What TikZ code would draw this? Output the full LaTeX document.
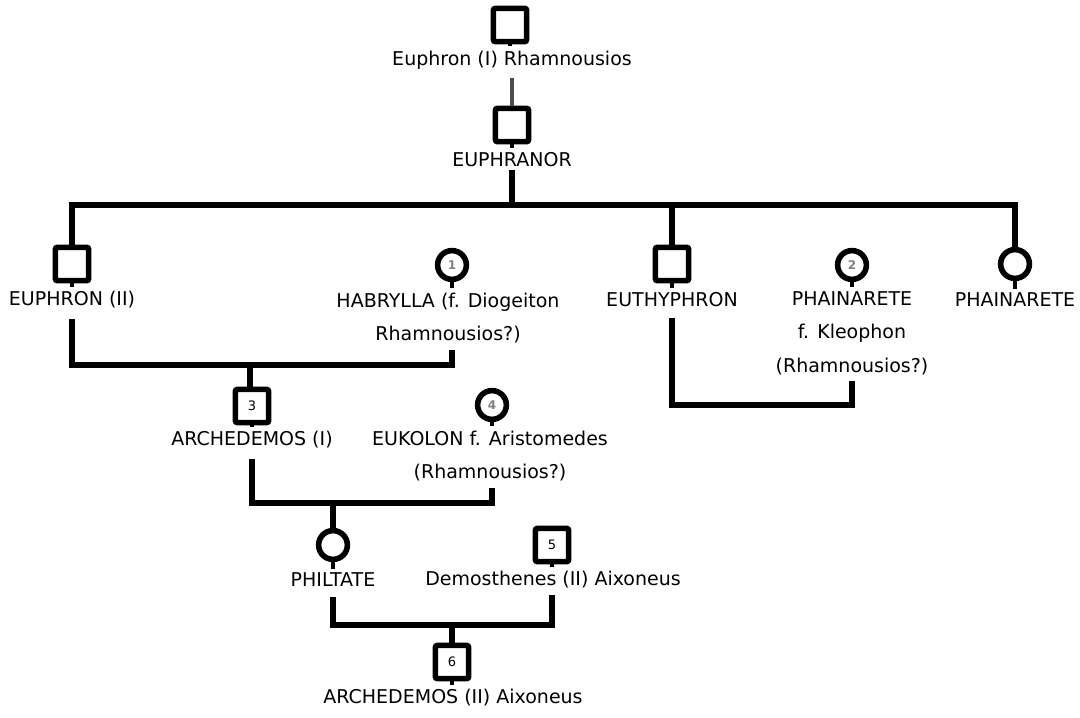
\documentclass[tikz,border=0pt]{standalone}
\usepackage{fontspec}
\setmainfont{DejaVu Sans}
\usetikzlibrary{calc}

\tikzset{
  male/.style={draw, line width=2.8pt, rounded corners=1pt, minimum size=16.6pt,
    inner sep=0pt, font=\fontsize{6.5}{7}\selectfont},
  female/.style={draw, circle, line width=2.8pt, minimum size=14.4pt,
    inner sep=0pt, font=\bfseries\fontsize{6}{7}\selectfont, text=gray},
  person/.style={inner sep=1pt, align=center, font=\fontsize{9.5}{16.8}\selectfont},
  link/.style={line width=2.6pt},
  stub/.style={line width=2pt, shorten >=1pt},
}

\begin{document}
\begin{tikzpicture}[x=0.5pt, y=-0.5pt]
        \useasboundingbox (0,0) rectangle (1080,717);

        % First generations
        \node[male] (euph1) at (510,25) {};
        \node[person] (euph1-txt) at (512,60) {Euphron (I) Rhamnousios};
        \node[male] (euphr) at (512,125) {};
        \node[person] (euphr-txt) at (512,160) {EUPHRANOR};

        % Children of Euphranor
        \node[male] (eu2) at (72,264) {};
        \node[person] (eu2-txt) at (72,300) {EUPHRON (II)};
        \node[female] (hab) at (452,265) {1};
        \node[person] (hab-txt) at (448,318) {HABRYLLA (f. Diogeiton\\Rhamnousios?)};
        \node[male] (euthy) at (672,264) {};
        \node[person] (euthy-txt) at (672,300) {EUTHYPHRON};
        \node[female] (phai1) at (852,265) {2};
        \node[person] (phai1-txt) at (852,333) {PHAINARETE\\f. Kleophon\\(Rhamnousios?)};
        \node[female] (phai2) at (1015,264) {};
        \node[person] (phai2-txt) at (1015,300) {PHAINARETE};

        % Next generations
        \node[male] (arch1) at (252,406) {3};
        \node[person] (arch1-txt) at (252,440) {ARCHEDEMOS (I)};
        \node[female] (euk) at (492,405) {4};
        \node[person] (euk-txt) at (490,456) {EUKOLON f. Aristomedes\\(Rhamnousios?)};
        \node[female] (phil) at (333,545) {};
        \node[person] (phil-txt) at (333,580) {PHILTATE};
        \node[male] (dem) at (552,545) {5};
        \node[person] (dem-txt) at (553,580) {Demosthenes (II) Aixoneus};
        \node[male] (arch2) at (452,662) {6};
        \node[person] (arch2-txt) at (453,698) {ARCHEDEMOS (II) Aixoneus};

        % Symbol to name
        \foreach \p in {euph1,euphr,eu2,hab,euthy,phai1,phai2,arch1,euk,phil,dem,arch2}
            \draw[stub] (\p.south) -- (\p.south |- \p-txt.north);

        % Descent lines
        \draw[line width=2pt, gray!60!black, shorten <=3pt] (euph1-txt) -- (euphr);

        \coordinate (sibs) at (512,205);
        \draw[link] (euphr-txt.south) -- (sibs);
        \draw[link] (eu2.north) |- (sibs) -| (phai2.north);
        \draw[link] (euthy.north) -- (euthy.north |- sibs);

        % Marriages
        \coordinate (m1) at (250,365);
        \draw[link, shorten <=4pt, shorten >=2pt] (eu2-txt.south) |- (m1) -| (hab-txt.south -| hab);
        \draw[link] (m1) -- (m1 |- arch1.north);

        \coordinate (m2) at (672,405);
        \draw[link, shorten <=4pt, shorten >=2pt] (euthy-txt.south) |- (m2) -| (phai1-txt.south -| phai1);

        \coordinate (m3) at (333,503);
        \draw[link, shorten <=4pt, shorten >=2pt] (arch1-txt.south) |- (m3) -| (euk-txt.south -| euk);
        \draw[link] (m3) -- (phil);

        \coordinate (m4) at (452,625);
        \draw[link, shorten <=4pt, shorten >=2pt] (phil-txt.south) |- (m4) -| (dem-txt.south -| dem);
        \draw[link] (m4) -- (arch2);
\end{tikzpicture}
\end{document}
